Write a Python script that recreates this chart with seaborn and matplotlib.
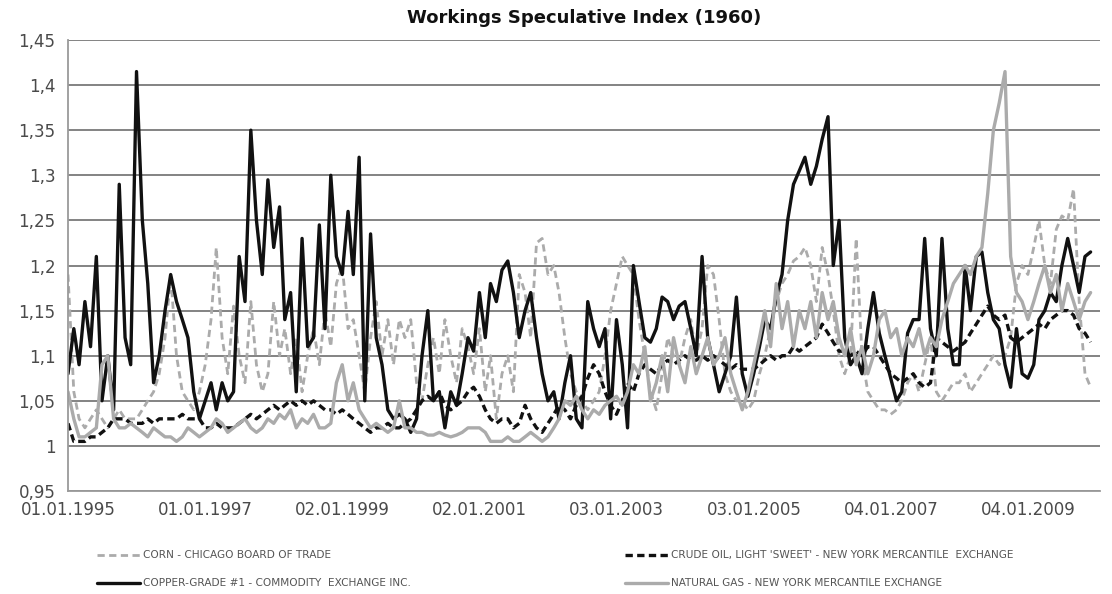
import matplotlib
matplotlib.use("Agg")
import matplotlib.pyplot as plt
import pandas as pd
import seaborn as sns

# monthly readings, Jan 1995 .. Dec 2009 (one row per year)
corn = [
    1.19, 1.06, 1.03, 1.02, 1.03, 1.04, 1.03, 1.02, 1.03, 1.04, 1.03, 1.03,
    1.03, 1.04, 1.05, 1.06, 1.08, 1.12, 1.19, 1.10, 1.06, 1.05, 1.04, 1.06,
    1.09, 1.14, 1.22, 1.12, 1.08, 1.155, 1.10, 1.07, 1.16, 1.09, 1.06, 1.08,
    1.16, 1.10, 1.13, 1.08, 1.12, 1.06, 1.10, 1.13, 1.09, 1.15, 1.11, 1.18,
    1.20, 1.13, 1.14, 1.10, 1.06, 1.12, 1.16, 1.10, 1.14, 1.09, 1.14, 1.12,
    1.14, 1.07, 1.05, 1.09, 1.12, 1.08, 1.14, 1.10, 1.07, 1.13, 1.11, 1.08,
    1.13, 1.06, 1.10, 1.03, 1.08, 1.10, 1.06, 1.19, 1.17, 1.12, 1.225, 1.23,
    1.19, 1.20, 1.17, 1.12, 1.08, 1.06, 1.05, 1.04, 1.05, 1.06, 1.10, 1.15,
    1.18, 1.21, 1.20, 1.19, 1.14, 1.10, 1.06, 1.04, 1.08, 1.12, 1.10, 1.09,
    1.12, 1.14, 1.10, 1.13, 1.20, 1.19, 1.14, 1.08, 1.06, 1.05, 1.05, 1.04,
    1.05, 1.08, 1.10, 1.13, 1.16, 1.18, 1.19, 1.205, 1.21, 1.22, 1.20, 1.16,
    1.22, 1.19, 1.15, 1.10, 1.08, 1.10, 1.23, 1.10, 1.06, 1.05, 1.04, 1.04,
    1.035, 1.04, 1.05, 1.07, 1.08, 1.06, 1.09, 1.12, 1.06, 1.05, 1.06, 1.07,
    1.07, 1.08, 1.06, 1.07, 1.08, 1.09, 1.10, 1.09, 1.10, 1.12, 1.18, 1.20,
    1.19, 1.22, 1.25, 1.20, 1.18, 1.24, 1.255, 1.25, 1.285, 1.16, 1.08, 1.065,
]
crude = [
    1.025, 1.005, 1.005, 1.005, 1.01, 1.01, 1.015, 1.02, 1.03, 1.03, 1.03, 1.025,
    1.025, 1.025, 1.03, 1.025, 1.03, 1.03, 1.03, 1.03, 1.035, 1.03, 1.03, 1.03,
    1.02, 1.02, 1.025, 1.02, 1.02, 1.02, 1.025, 1.03, 1.035, 1.03, 1.035, 1.04,
    1.045, 1.04, 1.045, 1.05, 1.045, 1.05, 1.045, 1.05, 1.045, 1.04, 1.04, 1.035,
    1.04, 1.035, 1.03, 1.025, 1.02, 1.015, 1.02, 1.02, 1.025, 1.02, 1.02, 1.025,
    1.03, 1.04, 1.05, 1.055, 1.05, 1.06, 1.045, 1.04, 1.045, 1.05, 1.06, 1.065,
    1.055, 1.04, 1.03, 1.025, 1.03, 1.03, 1.02, 1.025, 1.045, 1.03, 1.02, 1.015,
    1.025, 1.035, 1.045, 1.04, 1.03, 1.045, 1.055, 1.075, 1.09, 1.08, 1.06, 1.045,
    1.035, 1.05, 1.07, 1.06, 1.08, 1.09, 1.085, 1.08, 1.09, 1.095, 1.09, 1.095,
    1.10, 1.095, 1.095, 1.10, 1.095, 1.10, 1.095, 1.09, 1.085, 1.09, 1.085, 1.085,
    1.085, 1.09, 1.095, 1.10, 1.095, 1.10, 1.10, 1.11, 1.105, 1.11, 1.115, 1.12,
    1.135, 1.125, 1.115, 1.105, 1.105, 1.10, 1.105, 1.10, 1.11, 1.11, 1.10, 1.09,
    1.08, 1.075, 1.07, 1.075, 1.08, 1.07, 1.065, 1.07, 1.12, 1.115, 1.11, 1.105,
    1.11, 1.115, 1.125, 1.135, 1.145, 1.155, 1.145, 1.14, 1.145, 1.12, 1.115, 1.12,
    1.125, 1.13, 1.135, 1.13, 1.14, 1.145, 1.15, 1.15, 1.145, 1.13, 1.125, 1.115,
]
copper = [
    1.08, 1.13, 1.09, 1.16, 1.11, 1.21, 1.05, 1.10, 1.04, 1.29, 1.12, 1.09,
    1.415, 1.25, 1.18, 1.07, 1.10, 1.15, 1.19, 1.16, 1.14, 1.12, 1.06, 1.03,
    1.05, 1.07, 1.04, 1.07, 1.05, 1.06, 1.21, 1.16, 1.35, 1.25, 1.19, 1.295,
    1.22, 1.265, 1.14, 1.17, 1.06, 1.23, 1.11, 1.12, 1.245, 1.13, 1.30, 1.21,
    1.19, 1.26, 1.19, 1.32, 1.05, 1.235, 1.12, 1.09, 1.04, 1.03, 1.035, 1.03,
    1.015, 1.03, 1.10, 1.15, 1.05, 1.06, 1.02, 1.06, 1.045, 1.08, 1.12, 1.105,
    1.17, 1.12, 1.18, 1.16, 1.195, 1.205, 1.17, 1.12, 1.15, 1.17, 1.12, 1.08,
    1.05, 1.06, 1.03, 1.07, 1.10, 1.03, 1.02, 1.16, 1.13, 1.11, 1.13, 1.03,
    1.14, 1.09, 1.02, 1.20, 1.16, 1.12, 1.115, 1.13, 1.165, 1.16, 1.14, 1.155,
    1.16, 1.13, 1.10, 1.21, 1.12, 1.09, 1.06, 1.08, 1.10, 1.165, 1.08, 1.055,
    1.08, 1.11, 1.14, 1.13, 1.165, 1.19, 1.25, 1.29, 1.305, 1.32, 1.29, 1.31,
    1.34, 1.365, 1.20, 1.25, 1.12, 1.09, 1.10, 1.08, 1.13, 1.17, 1.125, 1.10,
    1.075, 1.05, 1.06, 1.125, 1.14, 1.14, 1.23, 1.13, 1.10, 1.23, 1.13, 1.09,
    1.09, 1.20, 1.15, 1.21, 1.215, 1.17, 1.14, 1.13, 1.09, 1.065, 1.13, 1.08,
    1.075, 1.09, 1.14, 1.15, 1.17, 1.16, 1.20, 1.23, 1.20, 1.17, 1.21, 1.215,
]
natgas = [
    1.06, 1.03, 1.01, 1.01, 1.015, 1.02, 1.09, 1.10, 1.03, 1.02, 1.02, 1.025,
    1.02, 1.015, 1.01, 1.02, 1.015, 1.01, 1.01, 1.005, 1.01, 1.02, 1.015, 1.01,
    1.015, 1.02, 1.03, 1.025, 1.015, 1.02, 1.025, 1.03, 1.02, 1.015, 1.02, 1.03,
    1.025, 1.035, 1.03, 1.04, 1.02, 1.03, 1.025, 1.035, 1.02, 1.02, 1.025, 1.07,
    1.09, 1.05, 1.07, 1.04, 1.03, 1.02, 1.025, 1.02, 1.015, 1.02, 1.05, 1.02,
    1.02, 1.015, 1.015, 1.012, 1.012, 1.015, 1.012, 1.01, 1.012, 1.015, 1.02, 1.02,
    1.02, 1.015, 1.005, 1.005, 1.005, 1.01, 1.005, 1.005, 1.01, 1.015, 1.01, 1.005,
    1.01, 1.02, 1.03, 1.05, 1.045, 1.055, 1.04, 1.03, 1.04, 1.035, 1.045, 1.05,
    1.055, 1.045, 1.06, 1.09, 1.08, 1.11, 1.05, 1.07, 1.10, 1.06, 1.12, 1.09,
    1.07, 1.11, 1.08, 1.10, 1.12, 1.09, 1.10, 1.12, 1.08, 1.06, 1.04, 1.06,
    1.09, 1.12, 1.15, 1.11, 1.18, 1.13, 1.16, 1.11, 1.15, 1.13, 1.16, 1.12,
    1.17, 1.14, 1.16, 1.12, 1.10, 1.13, 1.09, 1.11, 1.08, 1.10, 1.14, 1.15,
    1.12, 1.13, 1.10, 1.12, 1.11, 1.13, 1.10, 1.12, 1.11, 1.14, 1.16, 1.18,
    1.19, 1.20, 1.19, 1.21, 1.22, 1.28, 1.35, 1.38, 1.415, 1.21, 1.17, 1.16,
    1.14, 1.16, 1.18, 1.20, 1.17, 1.19, 1.15, 1.18, 1.16, 1.14, 1.16, 1.17,
]

dates = pd.date_range("1995-01-01", periods=len(copper), freq="MS")

labels = ["CORN - CHICAGO BOARD OF TRADE",
          "CRUDE OIL, LIGHT 'SWEET' - NEW YORK MERCANTILE  EXCHANGE",
          "COPPER-GRADE #1 - COMMODITY  EXCHANGE INC.",
          "NATURAL GAS - NEW YORK MERCANTILE EXCHANGE"]

tick_dates = pd.to_datetime(["1995-01-01", "1997-01-01", "1999-01-02", "2001-01-02",
                             "2003-01-03", "2005-01-03", "2007-01-04", "2009-01-04"])
tick_labels = ["01.01.1995", "01.01.1997", "02.01.1999", "02.01.2001",
               "03.01.2003", "03.01.2005", "04.01.2007", "04.01.2009"]
y_ticks = [0.95, 1.0, 1.05, 1.1, 1.15, 1.2, 1.25, 1.3, 1.35, 1.4, 1.45]
y_labels = ["0,95", "1", "1,05", "1,1", "1,15", "1,2", "1,25", "1,3", "1,35", "1,4", "1,45"]

sns.set_theme(style="white")
plt.rcParams['font.family'] = ['DejaVu Sans']

fig = plt.figure(figsize=(11.12, 5.94), dpi=100)
ax = fig.add_axes([68 / 1112, 1 - 491 / 594, 1032 / 1112, 451 / 594])

styles = [
    (corn, "#ababab", (0, (2.6, 1.6)), 2.0),
    (crude, "#111111", (0, (2.2, 1.3)), 2.4),
    (copper, "#111111", "-", 2.4),
    (natgas, "#ababab", "-", 2.4),
]
for (vals, col, ls, lw), lab in zip(styles, labels):
    sns.lineplot(x=dates, y=vals, ax=ax, color=col, linestyle=ls, lw=lw, label=lab)

if ax.get_legend() is not None:
    ax.get_legend().remove()

ax.set_ylim(0.95, 1.45)
ax.set_xlim(pd.Timestamp("1995-01-01"), pd.Timestamp("2010-01-20"))
ax.set_yticks(y_ticks)
ax.set_yticklabels(y_labels)
ax.set_xticks(tick_dates)
ax.set_xticklabels(tick_labels)
ax.set_xlabel("")
ax.set_ylabel("")

ax.yaxis.grid(True, color="#7a7a7a", lw=1.3)
ax.xaxis.grid(False)
ax.set_axisbelow(True)
for s in ["top", "right"]:
    ax.spines[s].set_visible(False)
for s in ["left", "bottom"]:
    ax.spines[s].set_color("#9a9a9a")
    ax.spines[s].set_linewidth(1.3)
ax.tick_params(axis="both", colors="#9a9a9a", labelcolor="#4a4a4a", labelsize=12,
               length=5, width=1.2, direction="out")
ax.tick_params(axis="x", pad=3, length=4)
ax.tick_params(axis="y", pad=4)

ax.set_title("Workings Speculative Index (1960)", fontsize=13, fontweight="bold",
             color="#111111", pad=12)

lines = ax.get_lines()[:4]
leg_kw = dict(frameon=False, fontsize=7.6, handlelength=4.0, handletextpad=0.3,
              labelspacing=1.7, borderpad=0, labelcolor="#555555")
fig.legend([lines[0], lines[2]], [labels[0], labels[2]], loc="upper left",
           bbox_to_anchor=(92 / 1112, 1 - 545 / 594), **leg_kw)
fig.legend([lines[1], lines[3]], [labels[1], labels[3]], loc="upper left",
           bbox_to_anchor=(620 / 1112, 1 - 545 / 594), **leg_kw)

fig.savefig("out.png", dpi=100)
